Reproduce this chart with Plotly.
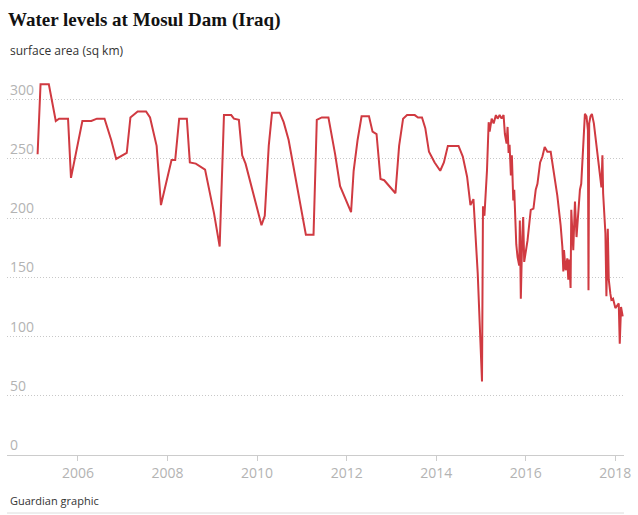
import plotly.graph_objects as go

# Decimal years
years = [
    2005.098, 2005.164, 2005.349, 2005.504, 2005.578, 2005.778, 2005.844,
    2006.098, 2006.298, 2006.422, 2006.593, 2006.742, 2006.853,
    2007.089, 2007.171, 2007.333, 2007.520, 2007.609, 2007.756, 2007.853,
    2008.089, 2008.171, 2008.260, 2008.431, 2008.498, 2008.631, 2008.838,
    2009.038, 2009.164, 2009.260, 2009.422, 2009.482, 2009.593, 2009.667, 2009.742,
    2010.098, 2010.171, 2010.260, 2010.333, 2010.504, 2010.593, 2010.704,
    2011.089, 2011.260, 2011.333, 2011.444, 2011.593, 2011.742, 2011.853,
    2012.098, 2012.156, 2012.244, 2012.333, 2012.498, 2012.578, 2012.667, 2012.756, 2012.838,
    2013.089, 2013.171, 2013.260, 2013.349, 2013.520, 2013.593, 2013.682, 2013.756, 2013.838, 2013.964,
    2014.089, 2014.171, 2014.260, 2014.498, 2014.593, 2014.689, 2014.764, 2014.831, 2014.927,
    2015.022, 2015.044, 2015.076, 2015.133, 2015.171, 2015.193, 2015.238, 2015.282, 2015.333,
    2015.371, 2015.416, 2015.460, 2015.504, 2015.533, 2015.571, 2015.593, 2015.616, 2015.638,
    2015.667, 2015.689, 2015.720, 2015.742, 2015.756, 2015.787, 2015.816, 2015.853, 2015.867,
    2015.889, 2015.920, 2015.942, 2015.964,
    2016.038, 2016.111, 2016.171, 2016.222, 2016.260, 2016.320, 2016.371, 2016.422, 2016.482,
    2016.556, 2016.631, 2016.704, 2016.778, 2016.816, 2016.838, 2016.853, 2016.889, 2016.927,
    2016.949, 2016.971,
    2017.000, 2017.016, 2017.060, 2017.098, 2017.133, 2017.164, 2017.209, 2017.238, 2017.320,
    2017.356, 2017.387, 2017.400, 2017.416, 2017.444, 2017.476, 2017.520, 2017.631, 2017.689,
    2017.711, 2017.727, 2017.778, 2017.800, 2017.831, 2017.853, 2017.889, 2017.911, 2017.949,
    2018.000, 2018.076, 2018.098, 2018.127, 2018.164,
]

# Surface area (sq km)
area = [
    254, 313, 313, 282, 284, 284, 234,
    282, 282, 284, 284, 266, 250,
    255, 285, 290, 290, 285, 261, 211,
    249, 249, 284, 284, 247, 246, 241,
    204, 176, 287, 287, 284, 283, 253, 246,
    194, 202, 261, 289, 289, 281, 266,
    186, 186, 283, 285, 285, 254, 227,
    205, 240, 266, 286, 286, 273, 271, 233, 232,
    221, 261, 284, 287, 287, 285, 285, 276, 256, 247,
    240, 247, 261, 261, 252, 235, 211, 216, 153,
    62, 210, 202, 240, 281, 273, 284, 280, 287,
    284, 287, 284, 287, 271, 263, 277, 255, 262,
    236, 253, 215, 224, 202, 178, 167, 160, 198,
    132, 184, 201, 163,
    181, 207, 208, 224, 229, 247, 252, 260, 256,
    256, 236, 219, 194, 176, 155, 173, 156, 166,
    148, 165,
    141, 207, 173, 214, 184, 201, 224, 229, 288,
    286, 274, 139, 280, 286, 288, 280, 246, 226,
    253, 221, 187, 134, 191, 148, 136, 131, 132,
    124, 128, 94, 125, 117,
]

x_tick_vals = [2006, 2008, 2010, 2012, 2014, 2016, 2018]
x_tick_text = ["2006", "2008", "2010", "2012", "2014", "2016", "2018"]
y_tick_vals = [0, 50, 100, 150, 200, 250, 300]

title_text = "Water levels at Mosul Dam (Iraq)"
subtitle_text = "surface area (sq km)"
source_text = "Guardian graphic"

fig = go.Figure()
fig.add_trace(go.Scatter(
    x=years, y=area, mode="lines",
    line=dict(color="#d03a41", width=2),
    hoverinfo="x+y",
))

W, H = 638, 515
ml, mr, mt, mb = 7, 11, 76, 60
ph = H - mt - mb

fig.update_layout(
    width=W, height=H,
    margin=dict(l=ml, r=mr, t=mt, b=mb, pad=0),
    paper_bgcolor="white", plot_bgcolor="white",
    showlegend=False,
    title=dict(
        text=title_text,
        x=8 / W, xanchor="left", xref="container",
        y=1 - 19 / H, yanchor="middle", yref="container",
        font=dict(family="Liberation Serif", size=19, color="#121212", weight="bold"),
    ),
    xaxis=dict(
        range=[2004.415, 2018.193],
        tickvals=x_tick_vals, ticktext=x_tick_text,
        showgrid=False, zeroline=False,
        showline=True, linecolor="#cccccc", linewidth=1,
        ticks="outside", ticklen=5, tickcolor="#cccccc",
        tickfont=dict(family="Open Sans", size=14, color="#b3b3b3"),
    ),
    yaxis=dict(
        range=[0, 320],
        tickvals=y_tick_vals,
        showgrid=True, gridcolor="#c8c8c8", griddash="1px,2px", gridwidth=1,
        zeroline=False, showline=False, ticks="",
        ticklabelposition="inside top",
        tickfont=dict(family="Open Sans", size=14, color="#b3b3b3"),
    ),
    annotations=[
        dict(text=subtitle_text, xref="paper", yref="paper", x=0, y=1,
             xanchor="left", yanchor="middle", xshift=1, yshift=mt - 50,
             showarrow=False,
             font=dict(family="Open Sans", size=12, color="#333333")),
        dict(text=source_text, xref="paper", yref="paper", x=0, y=0,
             xanchor="left", yanchor="middle", xshift=1, yshift=-(500 - (H - mb)),
             showarrow=False,
             font=dict(family="Open Sans", size=11, color="#333333")),
    ],
    shapes=[
        dict(type="line", xref="paper", yref="paper", x0=0, x1=1,
             y0=-(513 - (H - mb)) / ph, y1=-(513 - (H - mb)) / ph,
             line=dict(color="#dcdcdc", width=1)),
    ],
)

fig.write_html(
    "out.html",
    config={"displayModeBar": False},
    post_script="document.body.style.margin='0';document.body.style.padding='0';",
)
